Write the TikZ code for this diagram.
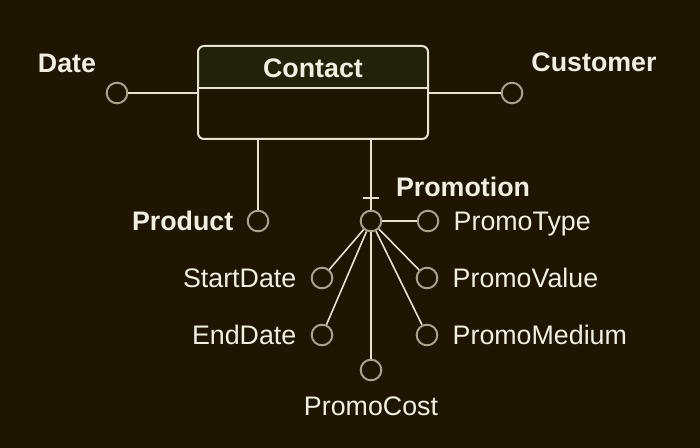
\documentclass[tikz,border=0pt]{standalone}
\usepackage{fontspec}
\setmainfont{Liberation Sans}
\usetikzlibrary{positioning}
\definecolor{bgbrown}{HTML}{1E1502}
\definecolor{headgreen}{HTML}{22220A}
\definecolor{linecream}{HTML}{E6E2CC}
\definecolor{circgray}{HTML}{A8A28A}
\definecolor{textcream}{HTML}{F2EEE2}
\tikzstyle{entity} = [draw=linecream, rounded corners=3pt, line width=1pt,
    minimum width=115pt, minimum height=46.5pt]
\tikzstyle{attr} = [circle, draw=circgray, line width=1pt,
    minimum size=10.3pt, inner sep=0pt]
\tikzstyle{txt} = [text=textcream, inner sep=0pt, text height=9.6pt, text depth=0pt,
    font=\fontsize{13.4}{16}\selectfont]
\tikzstyle{btxt} = [txt, font=\fontsize{13.4}{16}\selectfont\bfseries]
\tikzstyle{link} = [draw=linecream, line width=0.8pt]

\begin{document}
\begin{tikzpicture}[x=0.5pt, y=-0.5pt, node distance=7pt]
    \fill[bgbrown] (0,0) rectangle (700,448);
    % entity box with its header
    \fill[headgreen] (198,88) [rounded corners=3pt]-- (198,46) -- (428,46) [sharp corners]-- (428,88) -- cycle;
    \node [entity] (contact) at (313,92.5) {};
    \coordinate (split) at (313,88);
    \draw [link] (contact.west |- split) -- (contact.east |- split);
    \node [btxt] (contacttitle) at (313,68) {Contact};
    % attributes
    \node [attr] (date) at (117,93) {};
    \node [attr] (customer) at (512,93) {};
    \node [attr] (product) at (258,221) {};
    \node [attr] (promo) at (371,221) {};
    \node [attr] (promotype) at (428,221) {};
    \node [attr] (startdate) at (322,278) {};
    \node [attr] (enddate) at (322,335) {};
    \node [attr] (promocost) at (371,370) {};
    \node [attr] (promovalue) at (427,278) {};
    \node [attr] (promomedium) at (427,335) {};
    \draw [link] (date) -- (contact.west |- date);
    \draw [link] (customer) -- (contact.east |- customer);
    \draw [link] (contact.south -| product) -- (product);
    \draw [link] (contact.south -| promo) -- (promo);
    \coordinate (tick) at (371,198);
    \draw [link] ([xshift=-4pt]tick) -- ([xshift=4pt]tick);
    \foreach \a in {promotype, startdate, enddate, promocost, promovalue, promomedium}
        \draw [link] (promo) -- (\a);
    % labels
    \node [btxt] (datelbl) at (67,63) {Date};
    \node [btxt] (customerlbl) at (594,62) {Customer};
    \node [btxt] (promolbl) at (463,187) {Promotion};
    \node [btxt, left=6.5pt of product] (productlbl) {Product};
    \node [txt, right=7pt of promotype] (promotypelbl) {PromoType};
    \node [txt, right=7pt of promovalue] (promovaluelbl) {PromoValue};
    \node [txt, right=7pt of promomedium] (promomediumlbl) {PromoMedium};
    \node [txt, left=7pt of startdate] (startdatelbl) {StartDate};
    \node [txt, left=7pt of enddate] (enddatelbl) {EndDate};
    \node [txt, below=7.5pt of promocost] (promocostlbl) {PromoCost};
\end{tikzpicture}
\end{document}
